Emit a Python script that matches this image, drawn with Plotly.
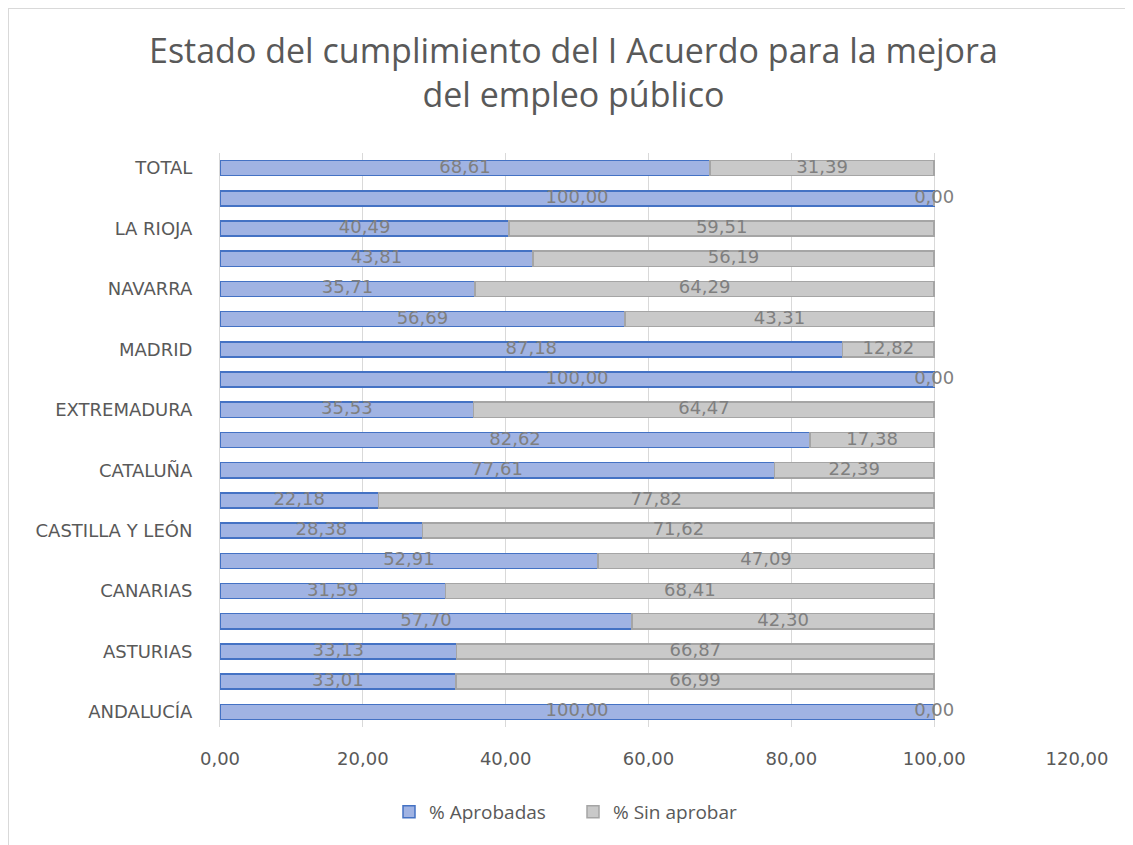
import plotly.graph_objects as go

categories = ["ANDALUCÍA", "ARAGÓN", "ASTURIAS", "BALEARES", "CANARIAS", "CANTABRIA",
              "CASTILLA Y LEÓN", "CASTILLA-LA MANCHA", "CATALUÑA", "C. VALENCIANA",
              "EXTREMADURA", "GALICIA", "MADRID", "MURCIA", "NAVARRA", "PAÍS VASCO",
              "LA RIOJA", "CEUTA Y MELILLA", "TOTAL"]
aprobadas = [100.00, 33.01, 33.13, 57.70, 31.59, 52.91, 28.38, 22.18, 77.61, 82.62,
             35.53, 100.00, 87.18, 56.69, 35.71, 43.81, 40.49, 100.00, 68.61]
sin_aprobar = [0.00, 66.99, 66.87, 42.30, 68.41, 47.09, 71.62, 77.82, 22.39, 17.38,
               64.47, 0.00, 12.82, 43.31, 64.29, 56.19, 59.51, 0.00, 31.39]
shown_labels = categories[::2]
x_ticks = [0, 20, 40, 60, 80, 100, 120]
title_text = "Estado del cumplimiento del I Acuerdo para la mejora<br>del empleo público"

TFONT = "Open Sans"
AFONT = "DejaVu Sans"
GRAY_TXT = "#595959"
LBL = "#7f7f7f"

# screen-space layout helpers (page body has an 8px margin)
PL, PR, PT, PB = 220, 1077, 153, 727
W, H = 1125, 837


def px(X):
    return (X - PL) / (PR - PL)


def py(Y):
    return (PB - Y) / (PB - PT)


def fmt(v):
    return f"{v:.2f}".replace(".", ",")


fig = go.Figure()
fig.add_trace(go.Bar(
    y=categories, x=aprobadas, orientation="h", name="% Aprobadas",
    marker=dict(color="#a0b3e3", line=dict(color="#4472c4", width=1.5)),
    hoverinfo="x+y",
))
fig.add_trace(go.Bar(
    y=categories, x=sin_aprobar, orientation="h", name="% Sin aprobar",
    marker=dict(color="#c9c9c9", line=dict(color="#a5a5a5", width=1.5)),
    hoverinfo="x+y",
))
# data labels, centred in each segment
fig.add_trace(go.Scatter(
    y=categories, x=[a / 2 for a in aprobadas], mode="text",
    text=[fmt(a) for a in aprobadas], textposition="middle center",
    textfont=dict(family=AFONT, size=18, color=LBL),
    showlegend=False, hoverinfo="skip", cliponaxis=False,
))
fig.add_trace(go.Scatter(
    y=categories, x=[a + s / 2 for a, s in zip(aprobadas, sin_aprobar)], mode="text",
    text=[fmt(s) for s in sin_aprobar], textposition="middle center",
    textfont=dict(family=AFONT, size=18, color=LBL),
    showlegend=False, hoverinfo="skip", cliponaxis=False,
))

fig.update_layout(
    barmode="stack",
    bargap=0.5,
    width=W, height=H,
    margin=dict(l=PL - 8, r=W - (PR - 8), t=PT - 8, b=H - (PB - 8), autoexpand=False),
    paper_bgcolor="white", plot_bgcolor="white",
    separators=",.",
    font=dict(family=TFONT, color=GRAY_TXT),
    annotations=[dict(
        text=title_text, xref="paper", yref="paper", x=px(573), y=py(72),
        xanchor="center", yanchor="middle", showarrow=False,
        font=dict(family=TFONT, size=34, color=GRAY_TXT),
    )],
    xaxis=dict(
        range=[0, 120], tickvals=x_ticks, tickformat=".2f",
        showgrid=True, gridcolor="#d9d9d9", gridwidth=1,
        zeroline=False, showline=False,
        tickfont=dict(family=AFONT, size=18, color=GRAY_TXT),
        ticks="", ticklabelstandoff=19, fixedrange=True,
    ),
    yaxis=dict(
        type="category", categoryorder="array", categoryarray=categories,
        range=[-0.5, len(categories) - 0.5],
        tickvals=shown_labels, ticktext=shown_labels,
        showline=True, linecolor="#d9d9d9", linewidth=1,
        showgrid=False, ticks="", ticklabelstandoff=23,
        tickfont=dict(family=AFONT, size=18, color=GRAY_TXT),
        fixedrange=True,
    ),
    legend=dict(
        orientation="h", xref="paper", x=px(573), xanchor="center",
        yref="container", y=1 - (812 - 8) / H, yanchor="middle",
        font=dict(family=TFONT, size=19, color=GRAY_TXT),
        entrywidth=139, traceorder="normal",
    ),
    showlegend=True,
    shapes=[
        dict(type="line", xref="paper", yref="paper",
             x0=px(8), x1=px(8), y0=py(8), y1=py(860),
             line=dict(color="#d9d9d9", width=2)),
        dict(type="line", xref="paper", yref="paper",
             x0=px(8), x1=px(1140), y0=py(8), y1=py(8),
             line=dict(color="#d9d9d9", width=2)),
    ],
)

fig.write_html("out.html")
